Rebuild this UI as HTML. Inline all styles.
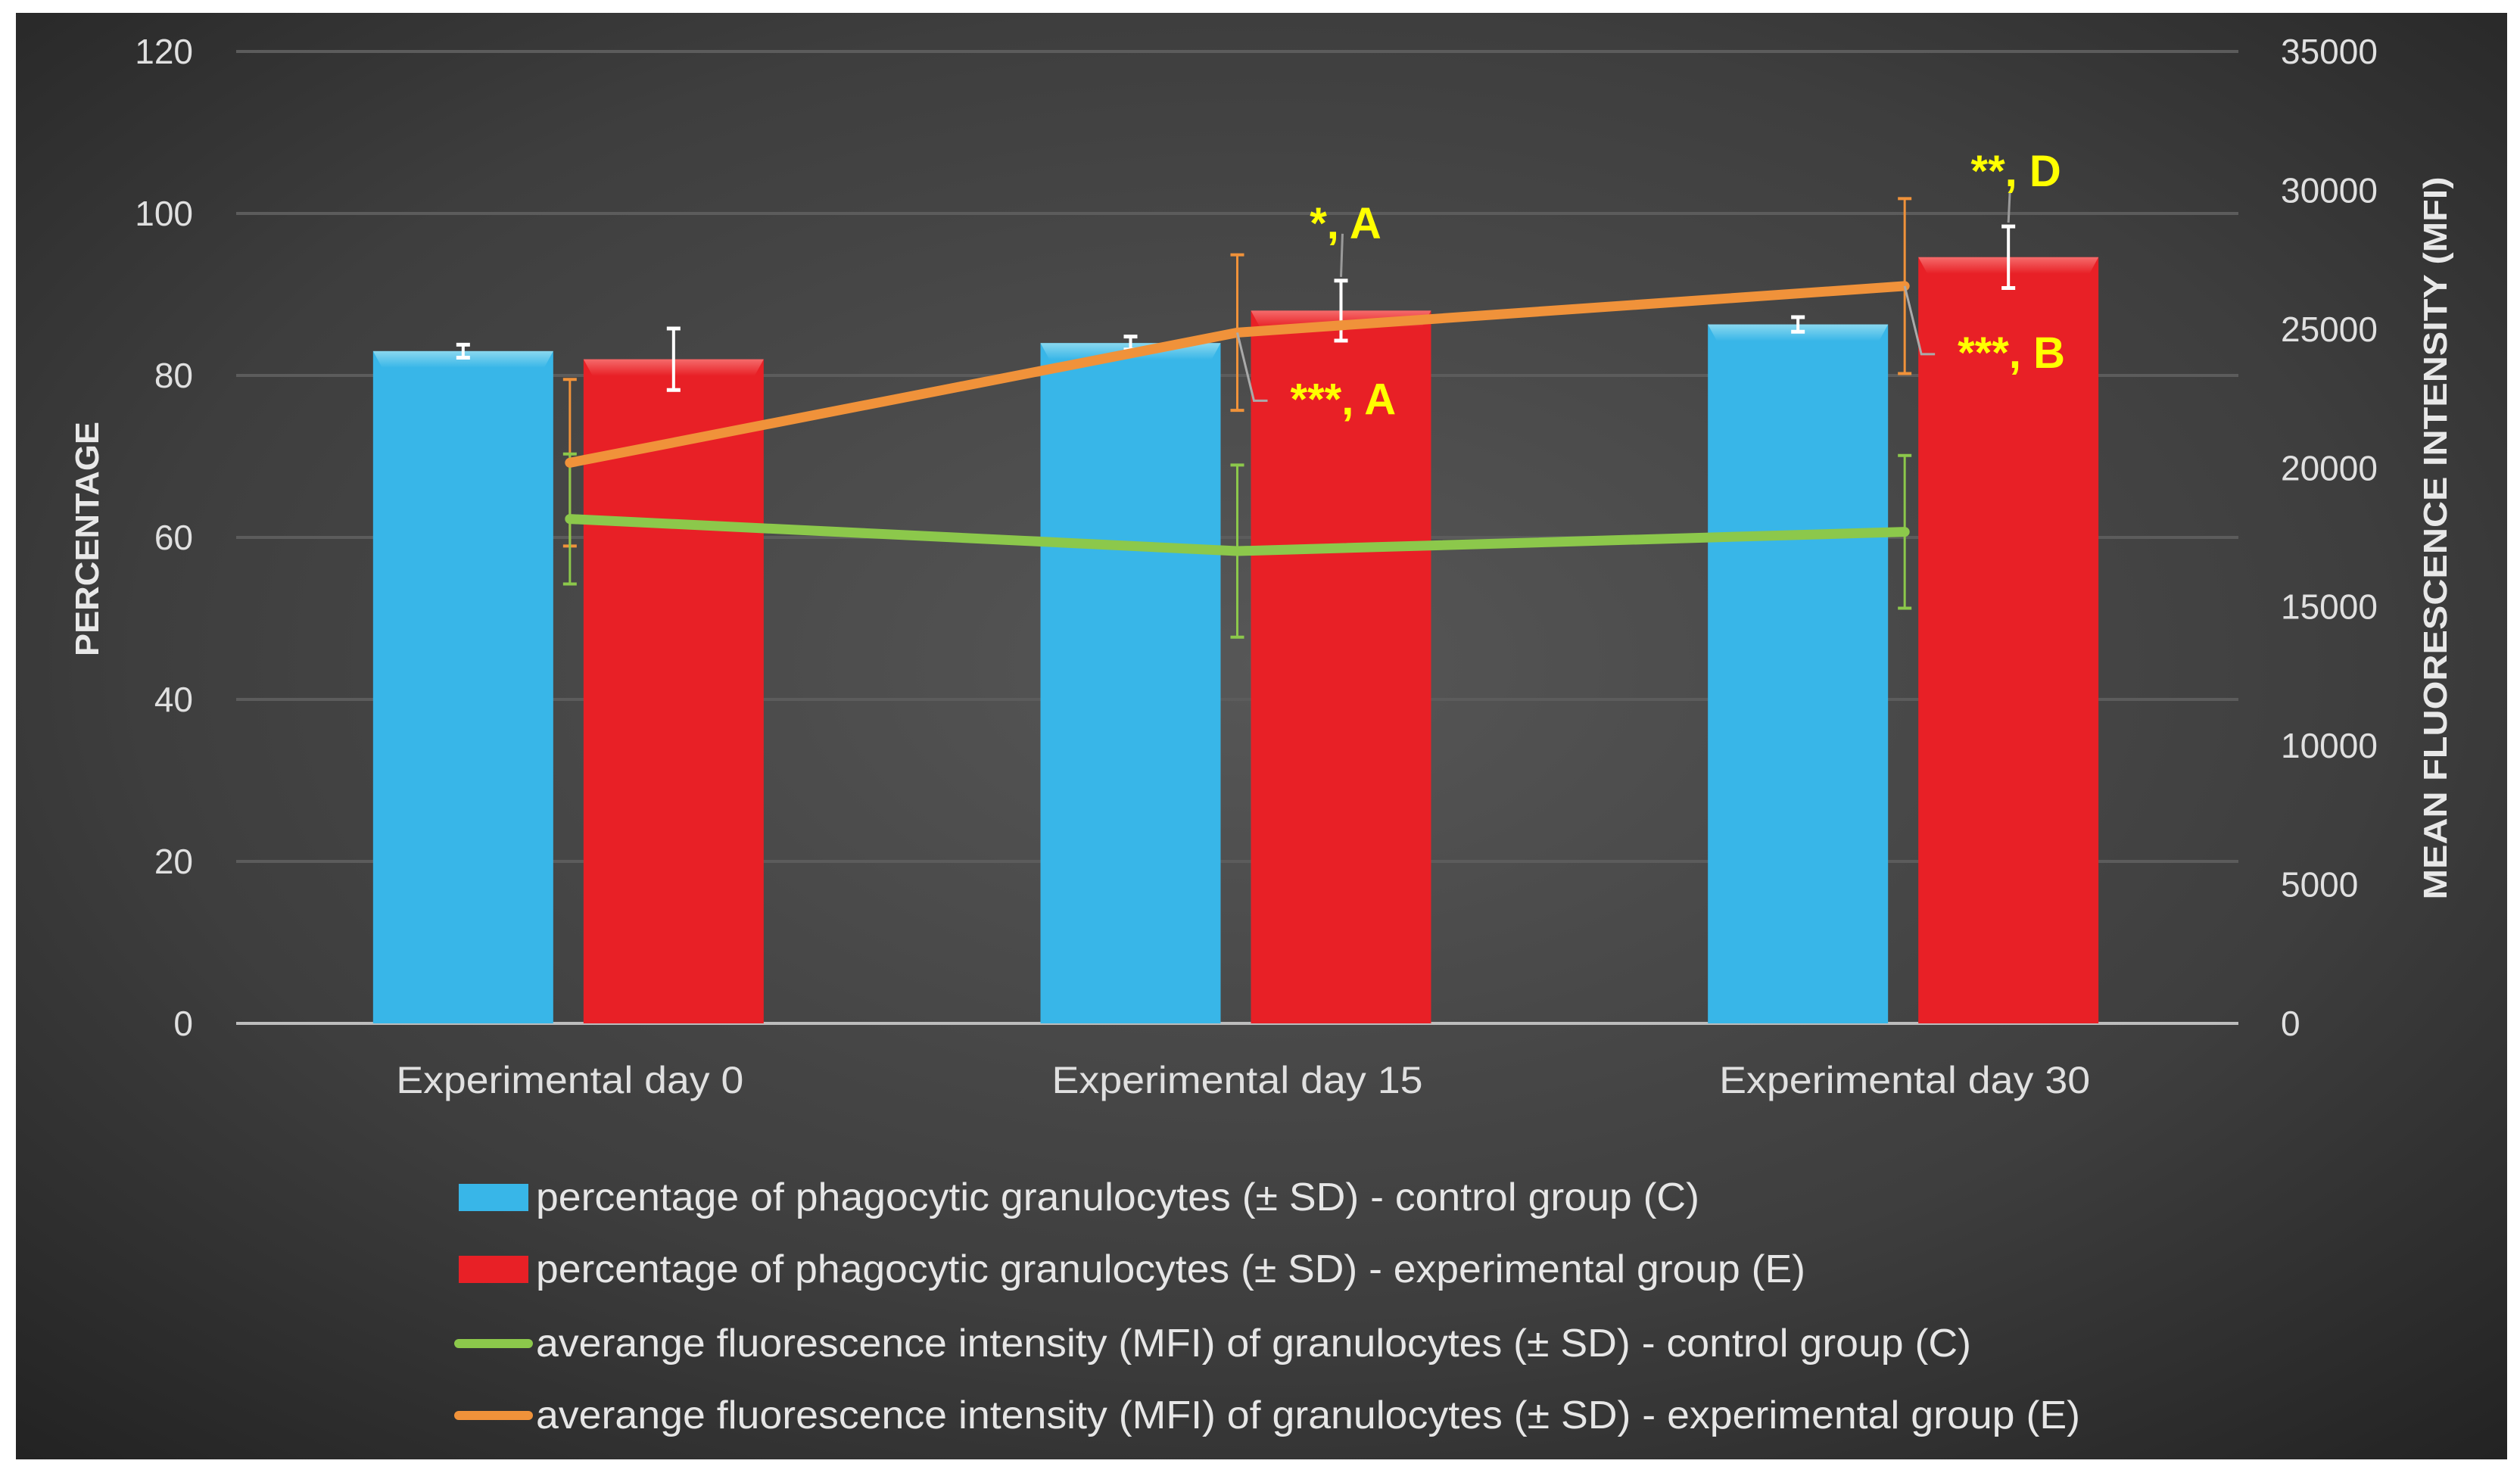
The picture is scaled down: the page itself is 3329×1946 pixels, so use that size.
<!DOCTYPE html>
<html><head><meta charset="utf-8">
<style>
html,body{margin:0;padding:0;background:#fff;}
svg{display:block;font-family:"Liberation Sans",sans-serif;}
</style></head>
<body>
<svg id="chart" width="3329" height="1946" viewBox="0 0 3329 1946">
<defs>
<radialGradient id="bg" cx="0.5" cy="0.45" r="0.75">
<stop offset="0" stop-color="#575757"/><stop offset="0.6" stop-color="#3e3e3e"/><stop offset="1" stop-color="#222"/>
</radialGradient>
<linearGradient id="blueTop" x1="0" y1="0" x2="0" y2="1"><stop offset="0" stop-color="#8ad8ef"/><stop offset="1" stop-color="#38b6e8"/></linearGradient>
<linearGradient id="redTop" x1="0" y1="0" x2="0" y2="1"><stop offset="0" stop-color="#f56b6b"/><stop offset="1" stop-color="#e82026"/></linearGradient>
</defs>
<rect x="21" y="17" width="3291" height="1911" fill="url(#bg)"/>
<g id="grid"></g>
<g id="bars"></g>
<g id="lines"></g>
<g id="ann"></g>
<g id="axes"></g>
<text x="0" y="0" transform="translate(130,712) rotate(-90)" text-anchor="middle" fill="#e8e8e8" font-size="44" font-weight="bold" textLength="310" lengthAdjust="spacingAndGlyphs">PERCENTAGE</text>
<text x="0" y="0" transform="translate(3232,711) rotate(-90)" text-anchor="middle" fill="#e8e8e8" font-size="44" font-weight="bold" textLength="955" lengthAdjust="spacingAndGlyphs">MEAN FLUORESCENCE INTENSITY (MFI)</text>
<g id="legend"></g>
</svg>
<script>
const categories = ["Experimental day 0","Experimental day 15","Experimental day 30"];
const blueVals = [83, 84, 86.3];
const blueErr = [0.8, 0.8, 0.9];
const redVals = [82, 88, 94.6];
const redErr = [3.8, 3.7, 3.8];
const mfiC = [18165, 17008, 17700];
const mfiCErr = [2340, 3100, 2750];
const mfiE = [20190, 24876, 26553];
const mfiEErr = [3000, 2800, 3150];
const leftTicks = [0,20,40,60,80,100,120];
const rightTicks = [0,5000,10000,15000,20000,25000,30000,35000];
const annotations = ["*, A","**, D","***, A","***, B"];

const NS="http://www.w3.org/2000/svg";
const L=312,R=2957,T=68,B=1352;
const yL=v=>B-(v/120)*(B-T);
const yR=v=>B-(v/35000)*(B-T);
const catW=(R-L)/categories.length;
const xC=i=>L+catW*(i+0.5);
const BW=238;
function mk(tag,attrs,parent,text){const e=document.createElementNS(NS,tag);for(const k in attrs)e.setAttribute(k,attrs[k]);if(text!==undefined)e.textContent=text;parent.appendChild(e);return e;}
const grid=document.getElementById('grid'),bars=document.getElementById('bars'),lines=document.getElementById('lines'),ann=document.getElementById('ann'),axes=document.getElementById('axes'),legend=document.getElementById('legend');

leftTicks.forEach(t=>{
  const g=mk('line',{x1:L,x2:R,y1:yL(t),y2:yL(t),stroke:t===0?'#bdbdbd':'#5c5c5c','stroke-width':4},grid);
  
  
  const tx=mk('text',{x:255,y:yL(t)+16,'text-anchor':'end',fill:'#e0e0e0','font-size':46},axes,String(t));
  
  
});
rightTicks.forEach(t=>{
  const tx=mk('text',{x:3013,y:yR(t)+16,'text-anchor':'start',fill:'#e0e0e0','font-size':46},axes,String(t));
  
  
});
categories.forEach((c,i)=>{
  const tx=mk('text',{x:xC(i),y:1444,'text-anchor':'middle',fill:'#e0e0e0','font-size':50,textLength:i===0?459:490,lengthAdjust:'spacingAndGlyphs'},axes,c);
  
  
});

function errBar(x,y1,y2,color,w,cap,parent,name){
  const g=mk('g',{},parent);
  
  
  mk('line',{x1:x,x2:x,y1:y1,y2:y2,stroke:color,'stroke-width':w},g);
  mk('line',{x1:x-cap,x2:x+cap,y1:y1,y2:y1,stroke:color,'stroke-width':w+1},g);
  mk('line',{x1:x-cap,x2:x+cap,y1:y2,y2:y2,stroke:color,'stroke-width':w+1},g);
}
categories.forEach((c,i)=>{
  const bx=xC(i)-141, rx=xC(i)+137;
  const b=mk('rect',{x:bx-BW/2,y:yL(blueVals[i]),width:BW,height:B-yL(blueVals[i]),fill:'#38b6e8'},bars);
  
  
  mk('polygon',{points:`${bx-BW/2},${yL(blueVals[i])} ${bx+BW/2},${yL(blueVals[i])} ${bx+BW/2-12},${yL(blueVals[i])+22} ${bx-BW/2+12},${yL(blueVals[i])+22}`,fill:'url(#blueTop)'},bars);
  const r=mk('rect',{x:rx-BW/2,y:yL(redVals[i]),width:BW,height:B-yL(redVals[i]),fill:'#e82026'},bars);
  
  
  mk('polygon',{points:`${rx-BW/2},${yL(redVals[i])} ${rx+BW/2},${yL(redVals[i])} ${rx+BW/2-12},${yL(redVals[i])+22} ${rx-BW/2+12},${yL(redVals[i])+22}`,fill:'url(#redTop)'},bars);
  errBar(bx,yL(blueVals[i]+blueErr[i]),yL(blueVals[i]-blueErr[i]),'#fff',4,9,bars,'error-bar-control');
  errBar(rx,yL(redVals[i]+redErr[i]),yL(redVals[i]-redErr[i]),'#fff',4,9,bars,'error-bar-experimental');
  errBar(xC(i),yR(mfiE[i]+mfiEErr[i]),yR(mfiE[i]-mfiEErr[i]),'#f0923a',3,9,lines,'error-bar-mfi-experimental');
  errBar(xC(i),yR(mfiC[i]+mfiCErr[i]),yR(mfiC[i]-mfiCErr[i]),'#8cc84b',3,9,lines,'error-bar-mfi-control');
});
const pc=mk('polyline',{points:mfiC.map((v,i)=>xC(i)+','+yR(v)).join(' '),fill:'none',stroke:'#8cc84b','stroke-width':13,'stroke-linejoin':'round','stroke-linecap':'round'},lines);


const pe=mk('polyline',{points:mfiE.map((v,i)=>xC(i)+','+yR(v)).join(' '),fill:'none',stroke:'#f0923a','stroke-width':13,'stroke-linejoin':'round','stroke-linecap':'round'},lines);



// annotations
const annPos=[
  [xC(1)+137, yL(redVals[1]+redErr[1])-70, xC(1)+137, yL(redVals[1]+redErr[1])-5],
  [xC(2)+137, yL(redVals[2]+redErr[2])-55, xC(2)+137, yL(redVals[2]+redErr[2])-5]
];
const annDy=[14,2];
annPos.forEach((p,k)=>{
  mk('line',{x1:p[0]+2,y1:p[1]+8,x2:p[2],y2:p[3],stroke:'#9a9a9a','stroke-width':3},ann);
  const t=mk('text',{x:p[0]+(k===0?6:10),y:p[1]+annDy[k],'text-anchor':'middle',fill:'#ffff00','font-size':58,'font-weight':'bold'},ann,annotations[k]);
  
  
});
[[1,2],[2,3]].forEach(([i,k])=>{
  const x0=xC(i),y0=yR(mfiE[i]);
  mk('polyline',{points:`${x0},${y0} ${x0+22},${y0+90} ${x0+40},${y0+90}`,fill:'none',stroke:'#aaa','stroke-width':3},ann);
  const t=mk('text',{x:x0+70,y:y0+108,'text-anchor':'start',fill:'#ffff00','font-size':58,'font-weight':'bold'},ann,annotations[k]);
  
  
});

// legend
const legItems=[
 ['rect','#38b6e8','percentage of phagocytic granulocytes (± SD) - control group (C)'],
 ['rect','#e82026','percentage of phagocytic granulocytes (± SD) - experimental group (E)'],
 ['line','#8cc84b','averange fluorescence intensity (MFI) of granulocytes (± SD) - control group (C)'],
 ['line','#f0923a','averange fluorescence intensity (MFI) of granulocytes (± SD) - experimental group (E)']
];
const legLen=[1537,1677,1896,2040];
const legY=[1582,1677,1775,1870];
legItems.forEach((it,i)=>{
  const g=mk('g',{},legend);
  
  
  if(it[0]==='rect') mk('rect',{x:606,y:legY[i]-18,width:92,height:36,fill:it[1]},g);
  else mk('line',{x1:606,x2:698,y1:legY[i],y2:legY[i],stroke:it[1],'stroke-width':12,'stroke-linecap':'round'},g);
  mk('text',{x:708,y:legY[i]+17,fill:'#e6e6e6','font-size':52,textLength:legLen[i],lengthAdjust:'spacingAndGlyphs'},g,it[2]);
});
</script>
</body></html>
